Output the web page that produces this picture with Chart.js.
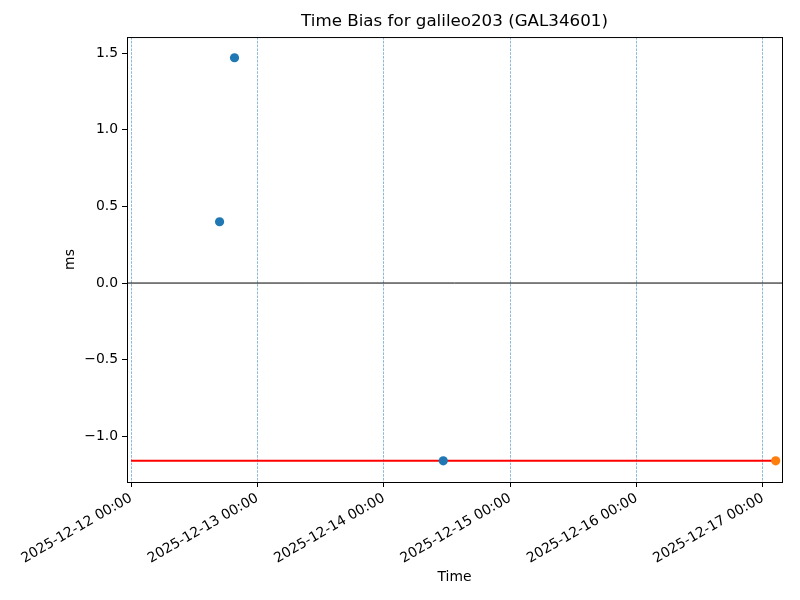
<!DOCTYPE html>
<html>
<head>
<meta charset="utf-8">
<script src="https://cdn.jsdelivr.net/npm/chart.js@4"></script>
<style>
  body { margin: 0; background: #fff; }
  #wrap { width: 800px; height: 600px; }
</style>
</head>
<body>
<div id="wrap"><canvas id="chart" width="800" height="600"></canvas></div>
<script>
// Data (UTC times, bias in ms)
const blueTimes = ['2025-12-12 16:49', '2025-12-12 19:39', '2025-12-14 11:18'];
const blueBias = [0.40, 1.47, -1.16];
const orangeTimes = ['2025-12-17 02:26'];
const orangeBias = [-1.16];
const refLineTimes = ['2025-12-12 00:00', '2025-12-17 02:26'];
const refLineBias = [-1.16, -1.16];
const dayTicks = ['2025-12-12 00:00', '2025-12-13 00:00', '2025-12-14 00:00',
  '2025-12-15 00:00', '2025-12-16 00:00', '2025-12-17 00:00'];
const yTicks = [-1.0, -0.5, 0.0, 0.5, 1.0, 1.5];
const xLimits = ['2025-12-11 23:14', '2025-12-17 03:38'];
const yLimits = [-1.298, 1.605];

function toMs(s) {
  return Date.parse(s.replace(' ', 'T') + ':00Z');
}

function fmtDate(v) {
  const d = new Date(v);
  const p = n => String(n).padStart(2, '0');
  return d.getUTCFullYear() + '-' + p(d.getUTCMonth() + 1) + '-' + p(d.getUTCDate()) +
    ' ' + p(d.getUTCHours()) + ':' + p(d.getUTCMinutes());
}

const pts = (times, vals) => times.map((t, i) => ({ x: toMs(t), y: vals[i] }));

// axes frame (all four spines)
const framePlugin = {
  id: 'frame',
  afterDraw(chart) {
    const { ctx, chartArea: a } = chart;
    ctx.save();
    ctx.strokeStyle = '#000';
    ctx.lineWidth = 1;
    ctx.strokeRect(a.left + 0.5, a.top + 0.5, a.right - a.left, a.bottom - a.top);
    ctx.restore();
  }
};

Chart.defaults.font.family = 'DejaVu Sans';
Chart.defaults.font.size = 13.9;
Chart.defaults.color = '#000';

const ctx = document.getElementById('chart').getContext('2d');
new Chart(ctx, {
  type: 'scatter',
  data: {
    datasets: [
      {
        label: 'bias',
        data: pts(blueTimes, blueBias),
        backgroundColor: '#1f77b4',
        borderColor: '#1f77b4',
        pointRadius: 4.6,
        borderWidth: 0,
        order: 0
      },
      {
        label: 'latest',
        data: pts(orangeTimes, orangeBias),
        backgroundColor: '#ff7f0e',
        borderColor: '#ff7f0e',
        pointRadius: 4.6,
        borderWidth: 0,
        order: 0
      },
      {
        label: 'reference',
        type: 'line',
        data: pts(refLineTimes, refLineBias),
        borderColor: '#ff0000',
        borderWidth: 2,
        pointRadius: 0,
        fill: false,
        order: 1
      },
      {
        label: 'zero',
        type: 'line',
        data: pts(xLimits, [0, 0]),
        borderColor: '#000',
        borderWidth: 1,
        pointRadius: 0,
        fill: false,
        order: 2
      }
    ]
  },
  options: {
    responsive: false,
    animation: false,
    layout: { padding: { left: 0, right: 18, top: 0, bottom: 0 } },
    plugins: {
      legend: { display: false },
      tooltip: { enabled: false },
      title: {
        display: true,
        text: 'Time Bias for galileo203 (GAL34601)',
        fullSize: false,
        font: { size: 16.7, weight: 'normal' },
        padding: { top: 12, bottom: 5 }
      }
    },
    scales: {
      x: {
        type: 'linear',
        min: toMs(xLimits[0]),
        max: toMs(xLimits[1]),
        afterBuildTicks: axis => { axis.ticks = dayTicks.map(t => ({ value: toMs(t) })); },
        afterFit: scale => { scale.height = 118; },
        ticks: {
          autoSkip: false,
          minRotation: 30,
          maxRotation: 30,
          padding: 3,
          callback: v => fmtDate(v)
        },
        grid: {
          color: 'rgba(31,119,180,0.75)',
          lineWidth: 0.7,
          tickColor: '#000',
          tickWidth: 1,
          tickLength: 5,
          tickBorderDash: []
        },
        border: { display: false, dash: [2.6, 1.2] },
        title: {
          display: true,
          text: 'Time',
          padding: { top: 4, bottom: 14 }
        }
      },
      y: {
        min: yLimits[0],
        max: yLimits[1],
        afterBuildTicks: axis => { axis.ticks = yTicks.map(v => ({ value: v })); },
        afterFit: scale => { scale.width = 127; },
        ticks: {
          padding: 4,
          callback: v => v.toFixed(1).replace('-', '\u2212')
        },
        grid: {
          drawOnChartArea: false,
          tickColor: '#000',
          tickWidth: 1,
          tickLength: 5
        },
        border: { display: false },
        title: {
          display: true,
          text: 'ms',
          padding: { top: 62, bottom: 4 }
        }
      }
    }
  },
  plugins: [framePlugin]
});
</script>
</body>
</html>
